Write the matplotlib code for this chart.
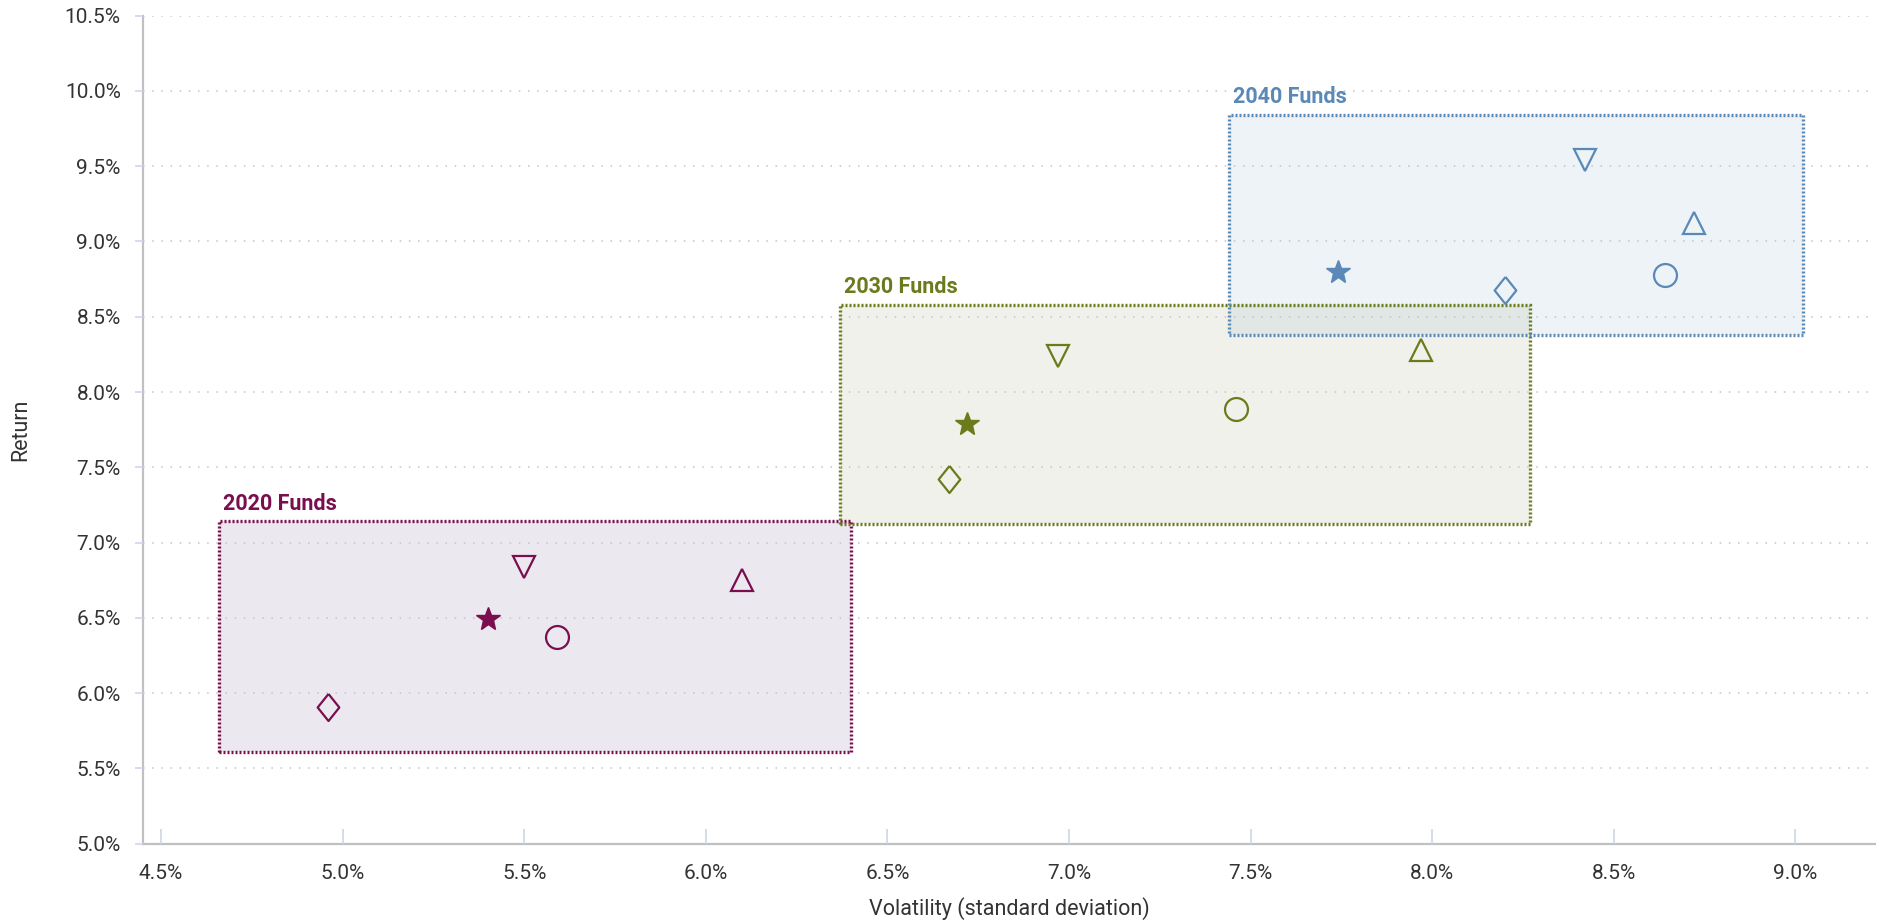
import numpy as np
import matplotlib
matplotlib.use('Agg')
import matplotlib.pyplot as plt
from matplotlib.patches import Rectangle

plt.rcParams['font.family'] = ['Roboto', 'DejaVu Sans']

# fund markers (same order in every group)
diamond = [(0, 1), (0.8, 0), (0, -1), (-0.8, 0), (0, 1)]
markers = ['*', diamond, 'v', 'o', '^']

groups = ['2020 Funds', '2030 Funds', '2040 Funds']
vol_2020 = [5.40, 4.96, 5.50, 5.59, 6.10]
ret_2020 = [6.49, 5.91, 6.84, 6.37, 6.75]
vol_2030 = [6.72, 6.67, 6.97, 7.46, 7.97]
ret_2030 = [7.79, 7.42, 8.24, 7.89, 8.28]
vol_2040 = [7.74, 8.20, 8.42, 8.64, 8.72]
ret_2040 = [8.80, 8.68, 9.54, 8.78, 9.12]

line_colors = ['#7a0e4e', '#6b7b1c', '#5a89b8']
fill_colors = ['#483769', '#79823f', '#6193bc']
pad = 0.3

fig = plt.figure(figsize=(18.81, 9.23), dpi=100)
ax = fig.add_axes([0.076, 0.086, 0.921, 0.897])

data = [(vol_2020, ret_2020), (vol_2030, ret_2030), (vol_2040, ret_2040)]
for i, (vx, ry) in enumerate(data):
    vx = np.array(vx)
    ry = np.array(ry)
    x0, x1 = vx.min() - pad, vx.max() + pad
    y0, y1 = ry.min() - pad, ry.max() + pad
    ax.add_patch(Rectangle((x0, y0), x1 - x0, y1 - y0, facecolor=fill_colors[i],
                           alpha=0.105, edgecolor='none', zorder=1))
    ax.add_patch(Rectangle((x0, y0), x1 - x0, y1 - y0, facecolor='none',
                           edgecolor=line_colors[i], lw=2.4, ls=(0, (0.6, 0.6)),
                           zorder=2))
    ax.annotate(groups[i], (x0, y1), xytext=(3, 5), textcoords='offset points',
                color=line_colors[i], fontweight='bold', fontsize=15.5,
                va='bottom', ha='left')
    for m, x, y in zip(markers, vx, ry):
        if isinstance(m, str) and m == '*':
            ax.plot(x, y, marker=m, ms=18, color=line_colors[i], mec=line_colors[i],
                    ls='none', zorder=4)
        else:
            ms = 19.5 if not isinstance(m, str) else 16.5
            ax.plot(x, y, marker=m, ms=ms, mfc='none', mec=line_colors[i], mew=1.6,
                    ls='none', zorder=4)

ax.set_xlim(4.45, 9.22)
ax.set_ylim(5.0, 10.5)
ax.set_xticks(np.arange(4.5, 9.01, 0.5))
ax.set_yticks(np.arange(5.0, 10.51, 0.5))
ax.set_xticklabels(['{:.1f}%'.format(v) for v in np.arange(4.5, 9.01, 0.5)])
ax.set_yticklabels(['{:.1f}%'.format(v) for v in np.arange(5.0, 10.51, 0.5)])

ax.grid(axis='y', color='#c4c4c4', lw=1.1, ls=(0, (1, 5)), zorder=1.5)
ax.set_axisbelow(False)
for gl in ax.get_ygridlines():
    gl.set_zorder(1.5)

ax.tick_params(axis='x', direction='in', length=11, width=1.2, color='#ccd6eb',
               labelsize=15, labelcolor='#333333', pad=15)
ax.tick_params(axis='y', direction='out', length=6, width=1.2, color='#ccd6eb',
               labelsize=15, labelcolor='#333333', pad=10)

for s in ['top', 'right']:
    ax.spines[s].set_visible(False)
for s in ['left', 'bottom']:
    ax.spines[s].set_color('#c0c0c0')
    ax.spines[s].set_linewidth(1.6)

ax.set_xlabel('Volatility (standard deviation)', fontsize=15.5, color='#333333', labelpad=10)
ax.set_ylabel('Return', fontsize=15.5, color='#333333', labelpad=24)

fig.savefig('out.png', dpi=100)
